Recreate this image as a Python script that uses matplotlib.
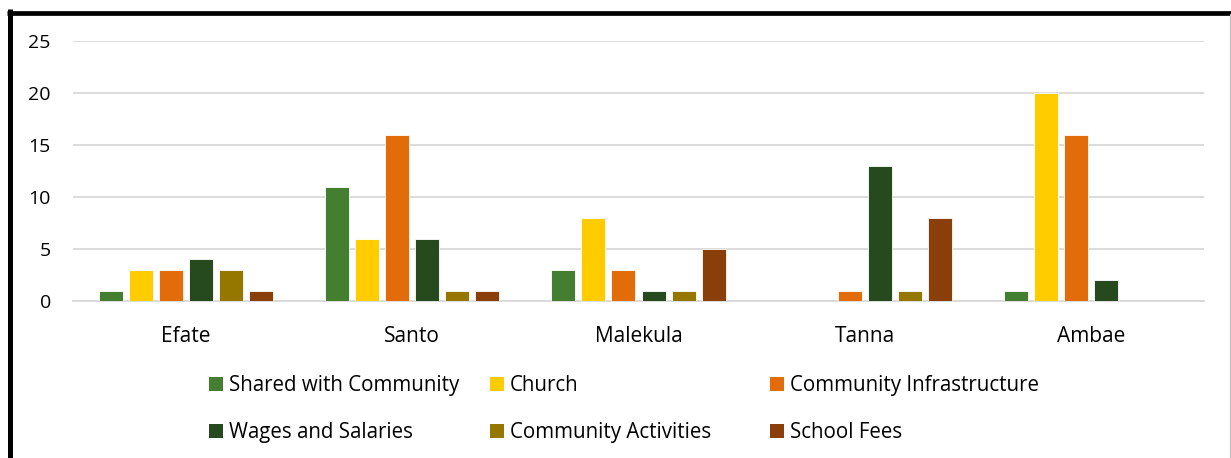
import matplotlib
matplotlib.use("Agg")
import matplotlib.pyplot as plt
import numpy as np
from matplotlib.lines import Line2D
from matplotlib.patches import Patch

plt.rcParams['font.family'] = ['Open Sans', 'DejaVu Sans']

categories = ["Efate", "Santo", "Malekula", "Tanna", "Ambae"]
series_names = ["Shared with Community", "Church", "Community Infrastructure",
                "Wages and Salaries", "Community Activities", "School Fees"]
shared = [1, 11, 3, 0, 1]
church = [3, 6, 8, 0, 20]
infra = [3, 16, 3, 1, 16]
wages = [4, 6, 1, 13, 2]
activities = [3, 1, 1, 1, 0]
school = [1, 1, 5, 8, 0]
series_values = [shared, church, infra, wages, activities, school]
colors = ["#437E31", "#FFCC00", "#E36C0A", "#264A1E", "#957700", "#8A3F0A"]
yticks = [0, 5, 10, 15, 20, 25]

W, H = 1231, 458
fig = plt.figure(figsize=(W / 100, H / 100), dpi=100)
ax = fig.add_axes([73 / W, 1 - 301 / H, (1204 - 73) / W, (301 - 41) / H])

x = np.arange(len(categories))
bw = 24 / 226
pitch = 30 / 226
for i, (vals, c) in enumerate(zip(series_values, colors)):
    offs = (i - 2.5) * pitch
    ax.bar(x + offs, vals, width=bw, color=c, edgecolor="white", linewidth=0.6, zorder=3)

ax.set_xlim(-0.5, len(categories) - 0.5)
ax.set_ylim(0, 25)
ax.set_yticks(yticks)
ax.set_yticklabels([str(t) for t in yticks], fontsize=14)
ax.set_xticks(x)
ax.set_xticklabels(categories, fontsize=15)
ax.tick_params(axis='y', length=0, pad=16)
ax.tick_params(axis='x', length=0, pad=18)
ax.grid(axis='y', color="#D9D9D9", linewidth=1.3, zorder=0)
for s in ["top", "right", "left"]:
    ax.spines[s].set_visible(False)
ax.spines["bottom"].set_color("#D9D9D9")
ax.spines["bottom"].set_linewidth(1.3)

# legends: three columns, two rows each
cols = [(0, 3), (1, 4), (2, 5)]
col_x = [209, 490, 770]
for (a, b), cx in zip(cols, col_x):
    handles = [Patch(facecolor=colors[a]), Patch(facecolor=colors[b])]
    leg = fig.legend(handles, [series_names[a], series_names[b]],
                     loc="upper left", bbox_to_anchor=(cx / W, 1 - 375 / H),
                     frameon=False, fontsize=14.8, borderpad=0, borderaxespad=0,
                     handlelength=0.68, handleheight=0.68, handletextpad=0.3,
                     labelspacing=1.28)

# outer border
fig.add_artist(Line2D([9.5 / W, 9.5 / W], [0, 1 - 9 / H], color="black", linewidth=3.6,
                      transform=fig.transFigure, solid_capstyle="butt"))
fig.add_artist(Line2D([7 / W, 1], [1 - 12.5 / H, 1 - 12.5 / H], color="black", linewidth=3.4,
                      transform=fig.transFigure, solid_capstyle="butt"))
fig.add_artist(Line2D([1229.5 / W, 1229.5 / W], [0, 1 - 14 / H], color="#BFBFBF", linewidth=0.8,
                      transform=fig.transFigure))

fig.savefig("out.png", dpi=100)
